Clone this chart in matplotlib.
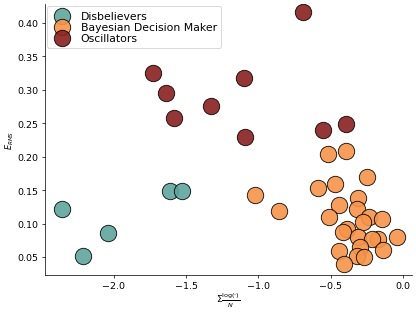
import matplotlib
matplotlib.use("Agg")
import matplotlib.pyplot as plt

# Disbelievers
dis_x = [-2.36, -2.214, -2.04, -1.61, -1.53]
dis_y = [0.122, 0.0515, 0.086, 0.149, 0.149]

# Bayesian Decision Maker
bdm_x = [-1.023, -0.857, -0.592, -0.52, -0.396, -0.249, -0.47,
         -0.311, -0.442, -0.322, -0.511, -0.235, -0.145, -0.276,
         -0.387, -0.419, -0.041, -0.311, -0.173, -0.218, -0.138,
         -0.442, -0.299, -0.322, -0.272, -0.41]
bdm_y = [0.142, 0.119, 0.153, 0.204, 0.208, 0.169, 0.159,
         0.138, 0.127, 0.121, 0.109, 0.109, 0.107, 0.102,
         0.092, 0.087, 0.0795, 0.0795, 0.077, 0.077, 0.0605,
         0.059, 0.0645, 0.052, 0.0495, 0.0395]

# Oscillators
osc_x = [-0.694, -1.73, -1.64, -1.585, -1.325, -1.103, -1.092, -0.555, -0.396]
osc_y = [0.416, 0.325, 0.295, 0.257, 0.276, 0.318, 0.229, 0.24, 0.249]

fig = plt.figure(figsize=(6.4, 4.83), dpi=65)
ax = fig.add_axes([0.108, 0.121, 0.882, 0.863])

kw = dict(s=330, edgecolor="black", linewidth=1.0, alpha=0.9)
ax.scatter(dis_x, dis_y, color="#5fa59d", label="Disbelievers", **kw)
ax.scatter(bdm_x, bdm_y, color="#f7944a", label="Bayesian Decision Maker", **kw)
ax.scatter(osc_x, osc_y, color="#8a2020", label="Oscillators", **kw)

ax.set_xlim(-2.476, 0.06)
ax.set_ylim(0.023, 0.428)
ax.set_xticks([-2.0, -1.5, -1.0, -0.5, 0.0])
ax.set_yticks([0.05, 0.10, 0.15, 0.20, 0.25, 0.30, 0.35, 0.40])
ax.tick_params(labelsize=10.5)
ax.spines["top"].set_visible(False)
ax.spines["right"].set_visible(False)

ax.set_xlabel(r"$\Sigma\frac{\log(\cdot)}{N}$", fontsize=10, labelpad=1)
ax.set_ylabel(r"$E_{RMS}$", fontsize=9, labelpad=2)

ax.legend(loc="upper left", fontsize=12, labelspacing=0.12,
          handletextpad=0.7, borderaxespad=0.2, markerscale=1.0)

fig.savefig("out.png", dpi=65)
